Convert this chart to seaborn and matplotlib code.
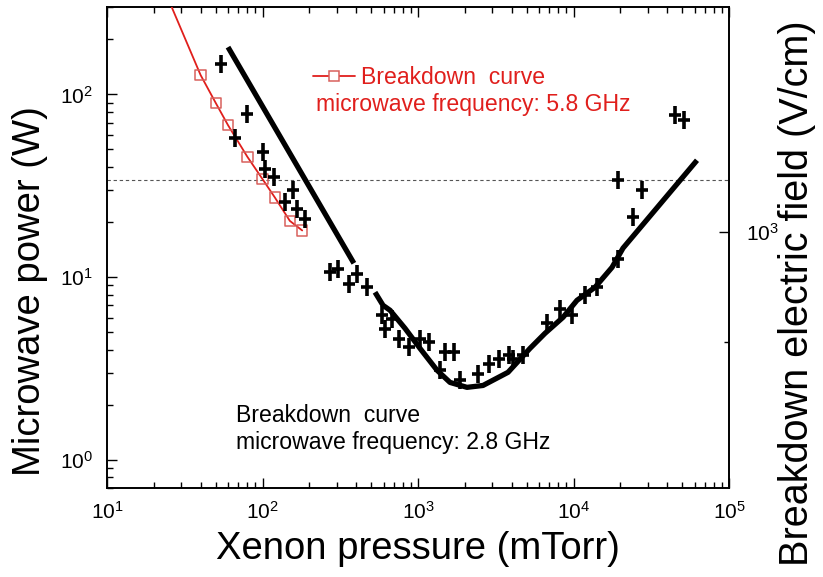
import numpy as np
import pandas as pd
import matplotlib
matplotlib.use("Agg")
import matplotlib.pyplot as plt
from matplotlib.lines import Line2D
from matplotlib.ticker import LogLocator, FixedLocator, LogFormatterSciNotation, NullFormatter
import seaborn as sns

# ---- 2.8 GHz measurements: xenon pressure (mTorr) vs microwave power (W)
meas_pressure = [54.1, 79.1, 66.6, 101.2, 103.8, 118.6, 156.4, 139.6, 166.0, 187.7,
                 272, 307, 362, 407, 472, 584, 613, 677, 758, 879,
                 1030, 1182, 1385, 1491, 1704, 1863, 2420, 2874, 3333, 3865,
                 4102, 4713, 6705, 8188, 9737, 11858, 14103, 19416, 24244, 27456,
                 19416, 44950, 51360]
meas_power = [146, 77.7, 58.1, 48.5, 39.3, 35.1, 29.9, 25.8, 23.7, 20.9,
              10.67, 11.1, 9.21, 10.45, 8.83, 6.17, 5.22, 5.92, 4.60, 4.14,
              4.60, 4.41, 3.09, 3.89, 3.89, 2.72, 2.96, 3.36, 3.58, 3.73,
              3.56, 3.73, 5.63, 6.72, 6.17, 7.95, 8.83, 12.6, 21.3, 29.9,
              33.9, 77.0, 72.3]

# ---- 2.8 GHz breakdown curve (two traced branches)
curve_hi_pressure = [60.0, 387]
curve_hi_power = [181.6, 11.9]
curve_lo_pressure = [529, 596, 661, 825, 1030, 1325, 1606, 2066, 2618, 3793,
                     5252, 6556, 8561, 10532, 13750, 17690, 20812, 62260]
curve_lo_power = [8.26, 7.0, 6.58, 5.24, 4.07, 3.09, 2.65, 2.49, 2.55, 3.01,
                  4.07, 4.92, 6.02, 7.46, 8.79, 11.3, 14.4, 43.6]

# ---- 5.8 GHz breakdown curve
red_pressure = [40, 50, 60, 80, 100, 120, 150, 180]
red_power = [127.6, 89.9, 67.9, 45.5, 34.4, 27.3, 20.3, 18.0]
red_line_pressure = [26.1] + red_pressure
red_line_power = [300.0] + red_power

# reference power level (dashed line)
ref_power = 34.0

# electric field scale: E = E_ref * sqrt(P / P_ref)
E_ref, P_ref = 1000.0, 17.6

x_limits = (10, 1e5)
y_limits = (0.7, 300)

sns.set_theme(style="white")
plt.rcParams["font.family"] = ["Liberation Sans", "DejaVu Sans"]
plt.rcParams["mathtext.fontset"] = "custom"
plt.rcParams["mathtext.rm"] = "Liberation Sans"
plt.rcParams["mathtext.it"] = "Liberation Sans:italic"
for key in ("text.color", "axes.labelcolor", "xtick.color", "ytick.color"):
    plt.rcParams[key] = "black"

fig = plt.figure(figsize=(8.23, 5.77), dpi=100)
ax = fig.add_axes([107 / 823, 1 - 488 / 577, 622 / 823, 480.7 / 577])
ax.set_xscale("log")
ax.set_yscale("log")
ax.set_xlim(*x_limits)
ax.set_ylim(*y_limits)

meas = pd.DataFrame({"pressure": meas_pressure, "power": meas_power})
hi = pd.DataFrame({"pressure": curve_hi_pressure, "power": curve_hi_power})
lo = pd.DataFrame({"pressure": curve_lo_pressure, "power": curve_lo_power})
red_line = pd.DataFrame({"pressure": red_line_pressure, "power": red_line_power})
red_pts = pd.DataFrame({"pressure": red_pressure, "power": red_power})

red = "#e01f1c"
sq_red = "#d8605c"

# reference level
ax.axhline(ref_power, color="#555555", lw=0.8, ls=(0, (3, 2.5)), zorder=1)

# thick breakdown curve
for seg in (hi, lo):
    sns.lineplot(data=seg, x="pressure", y="power", ax=ax, color="black",
                 lw=3.8, sort=False, estimator=None, solid_capstyle="butt", zorder=3)

# 5.8 GHz curve
sns.lineplot(data=red_line, x="pressure", y="power", ax=ax, color=red, lw=1.3,
             sort=False, estimator=None, zorder=4)
sns.scatterplot(data=red_pts, x="pressure", y="power", ax=ax, marker="s", s=55,
                facecolor="none", edgecolor=sq_red, linewidth=1.1, zorder=5)

# measured points drawn as crosses
sns.scatterplot(data=meas, x="pressure", y="power", ax=ax, marker="|", s=150,
                color="black", linewidth=2.6, zorder=6)
sns.scatterplot(data=meas, x="pressure", y="power", ax=ax, marker="_", s=80,
                color="black", linewidth=2.6, zorder=6)

# ticks
ax.xaxis.set_major_locator(LogLocator(base=10, numticks=10))
ax.xaxis.set_minor_locator(LogLocator(base=10, subs=np.arange(2, 10), numticks=20))
ax.xaxis.set_major_formatter(LogFormatterSciNotation())
ax.xaxis.set_minor_formatter(NullFormatter())
ax.yaxis.set_major_locator(LogLocator(base=10, numticks=10))
ax.yaxis.set_minor_locator(LogLocator(base=10, subs=np.arange(2, 10), numticks=20))
ax.yaxis.set_major_formatter(LogFormatterSciNotation())
ax.yaxis.set_minor_formatter(NullFormatter())
ax.tick_params(axis="x", which="both", direction="in", bottom=True, top=True,
               labelsize=15, pad=9, color="black")
ax.tick_params(axis="y", which="both", direction="in", left=True, right=False,
               labelsize=15, pad=10, color="black")
ax.tick_params(which="major", length=7, width=1.0)
ax.tick_params(which="minor", length=4.5, width=1.0)

for sp in ax.spines.values():
    sp.set_color("black")
    sp.set_linewidth(1.4)

ax.set_xlabel("Xenon pressure (mTorr)", fontsize=27.5, labelpad=6)
ax.set_ylabel("Microwave power (W)", fontsize=27.5)
ax.yaxis.set_label_coords(-0.095, 0.41)

# electric field axis
ax2 = ax.twinx()
ax2.set_yscale("log")
ax2.set_ylim(E_ref * np.sqrt(y_limits[0] / P_ref), E_ref * np.sqrt(y_limits[1] / P_ref))
ax2.yaxis.set_major_locator(FixedLocator([1000]))
ax2.yaxis.set_minor_locator(FixedLocator([500]))
ax2.yaxis.set_major_formatter(LogFormatterSciNotation())
ax2.yaxis.set_minor_formatter(NullFormatter())
ax2.tick_params(axis="y", which="both", direction="in", labelsize=15, pad=12)
ax2.tick_params(which="major", length=7, width=1.0)
ax2.tick_params(which="minor", length=3.5, width=1.0)
ax2.set_ylabel("Breakdown electric field (V/cm)", fontsize=28.5)
ax2.yaxis.set_label_coords(1.079, 0.405)
for sp in ax2.spines.values():
    sp.set_visible(False)

# legend for the 5.8 GHz curve
handle = Line2D([], [], color=red, lw=1.3, marker="s", markersize=7,
                markerfacecolor="white", markeredgecolor=sq_red, markeredgewidth=1.1)
leg = ax.legend([handle], ["Breakdown  curve"], loc="center left",
                bbox_to_anchor=(313 / 823, 1 - 78 / 577), bbox_transform=fig.transFigure,
                frameon=False, fontsize=16.6, handlelength=1.8, handletextpad=0.3,
                borderpad=0, borderaxespad=0, labelcolor=red)
fig.text(316 / 823, 1 - 105 / 577, "microwave frequency: 5.8 GHz", color=red,
         fontsize=16.6, va="center", ha="left")

fig.text(236 / 823, 1 - 415 / 577, "Breakdown  curve", color="black",
         fontsize=16.6, va="center", ha="left")
fig.text(236 / 823, 1 - 443 / 577, "microwave frequency: 2.8 GHz", color="black",
         fontsize=16.6, va="center", ha="left")

fig.savefig("out.png", dpi=100, facecolor="white")
